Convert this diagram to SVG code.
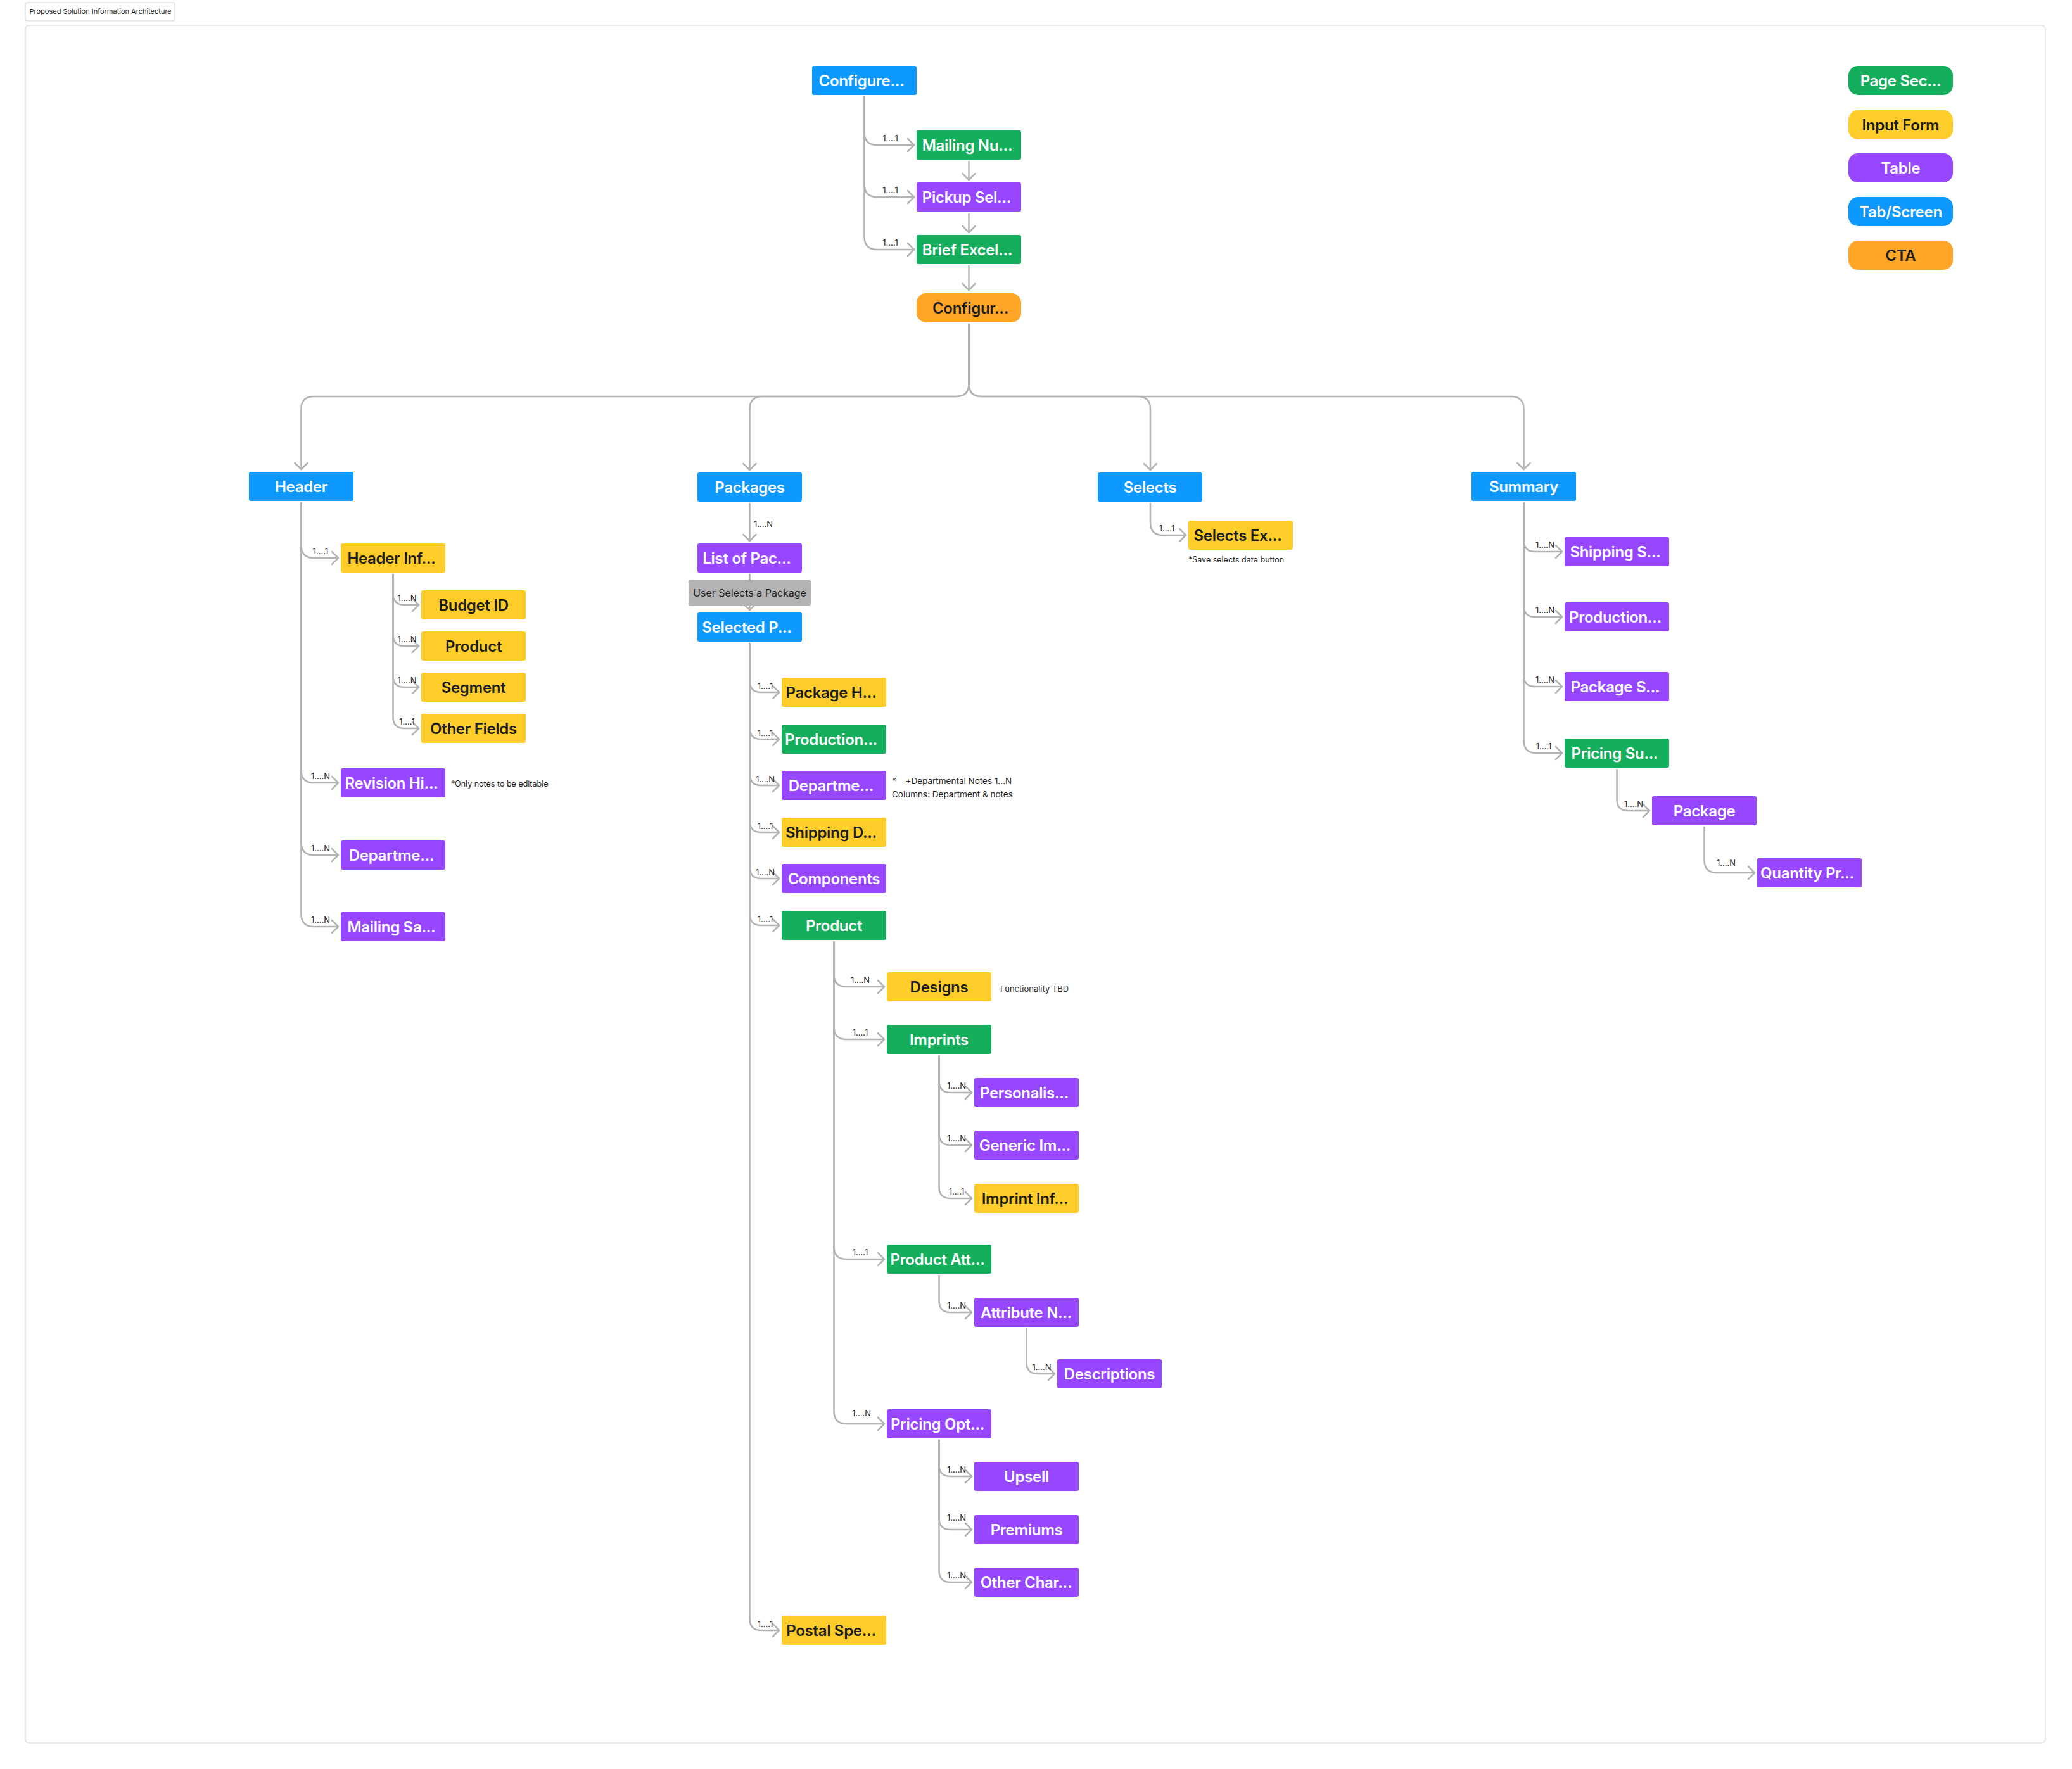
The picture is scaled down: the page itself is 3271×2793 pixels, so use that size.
<svg xmlns="http://www.w3.org/2000/svg" width="3271" height="2793" viewBox="0 0 3271 2793">
<defs>
<style>
.bg{fill:#ffffff}
.frame{fill:none;stroke:#e3e3e3;stroke-width:1.5}
.title-box{fill:#ffffff;stroke:#d4d4d4;stroke-width:1}
.title{font-family:Inter,"Noto Sans",sans-serif;font-size:11px;fill:#1e1e1e}
.green{fill:#14ae5c}
.yellow{fill:#ffcd29}
.purple{fill:#9747ff}
.blue{fill:#0d99ff}
.orange{fill:#ffa629}
.grey{fill:#b3b3b3}
.t{font-family:Inter,"Noto Sans",sans-serif;font-size:24px;font-weight:600;letter-spacing:-0.3px;text-anchor:middle}
.w{fill:#ffffff}
.d{fill:#1e1e1e}
.c{fill:none;stroke:#b3b3b3;stroke-width:2.5;stroke-linecap:round;marker-end:url(#arr)}
.lbl{font-family:Inter,"Noto Sans",sans-serif;font-size:13px;fill:#1e1e1e;text-anchor:middle}
.note{font-family:Inter,"Noto Sans",sans-serif;font-size:12.5px;fill:#1e1e1e}
.gt{font-family:Inter,"Noto Sans",sans-serif;font-size:16px;fill:#1e1e1e;text-anchor:middle}
</style>
<marker id="arr" viewBox="-13 -12 15 24" refX="0" refY="0" markerWidth="15" markerHeight="24" markerUnits="userSpaceOnUse" orient="auto">
<path d="M-10,-10 L0,0 L-10,10" fill="none" stroke="#b3b3b3" stroke-width="2.5" stroke-linecap="round" stroke-linejoin="round"/>
</marker>
</defs>
<rect class="bg" x="0" y="0" width="3271" height="2793"/>
<rect class="frame" x="40" y="40" width="3189" height="2712" rx="6"/>
<g id="title">
<rect class="title-box" x="40" y="4" width="236" height="29" rx="3"/>
<text class="title" x="46.5" y="22">Proposed Solution Information Architecture</text>
</g>

<g id="connectors">
<path class="c" d="M1364.5,153 V209 Q1364.5,229 1384.5,229 H1443"/>
<path class="c" d="M1364.5,153 V291 Q1364.5,311 1384.5,311 H1443"/>
<path class="c" d="M1364.5,153 V374 Q1364.5,394 1384.5,394 H1443"/>
<text class="lbl" x="1405.5" y="223">1....1</text>
<text class="lbl" x="1405.5" y="305">1....1</text>
<text class="lbl" x="1405.5" y="388">1....1</text>
<path class="c" d="M1529.5,255 V284"/>
<path class="c" d="M1529.5,338 V367"/>
<path class="c" d="M1529.5,420 V458"/>
<path class="c" d="M1529.5,512 V606 Q1529.5,626 1509.5,626 H495.5 Q475.5,626 475.5,646 V741"/>
<path class="c" d="M1529.5,512 V606 Q1529.5,626 1509.5,626 H1203.5 Q1183.5,626 1183.5,646 V742"/>
<path class="c" d="M1529.5,512 V606 Q1529.5,626 1549.5,626 H1796 Q1816,626 1816,646 V742"/>
<path class="c" d="M1529.5,512 V606 Q1529.5,626 1549.5,626 H2385.5 Q2405.5,626 2405.5,646 V741"/>
<path class="c" d="M475.5,794 V861 Q475.5,881 495.5,881 H534"/>
<path class="c" d="M475.5,794 V1216 Q475.5,1236 495.5,1236 H534"/>
<path class="c" d="M475.5,794 V1330 Q475.5,1350 495.5,1350 H534"/>
<path class="c" d="M475.5,794 V1443 Q475.5,1463 495.5,1463 H534"/>
<text class="lbl" x="506" y="875">1....1</text>
<text class="lbl" x="506" y="1230">1....N</text>
<text class="lbl" x="506" y="1344">1....N</text>
<text class="lbl" x="506" y="1457">1....N</text>
<path class="c" d="M620.5,907 V937 Q620.5,955 638.5,955 H661"/>
<path class="c" d="M620.5,907 V1002 Q620.5,1020 638.5,1020 H661"/>
<path class="c" d="M620.5,907 V1067 Q620.5,1085 638.5,1085 H661"/>
<path class="c" d="M620.5,907 V1132 Q620.5,1150 638.5,1150 H661"/>
<text class="lbl" x="642.5" y="949">1....N</text>
<text class="lbl" x="642.5" y="1014">1....N</text>
<text class="lbl" x="642.5" y="1079">1....N</text>
<text class="lbl" x="642.5" y="1144">1....1</text>
<path class="c" d="M1183.5,795 V854"/>
<text class="lbl" x="1190" y="832" style="text-anchor:start">1....N</text>
<path class="c" d="M1183.5,907 V963"/>
<path class="c" d="M1183.5,1016 V1075 Q1183.5,1093 1201.5,1093 H1230"/>
<path class="c" d="M1183.5,1016 V1149 Q1183.5,1167 1201.5,1167 H1230"/>
<path class="c" d="M1183.5,1016 V1222 Q1183.5,1240 1201.5,1240 H1230"/>
<path class="c" d="M1183.5,1016 V1296 Q1183.5,1314 1201.5,1314 H1230"/>
<path class="c" d="M1183.5,1016 V1369 Q1183.5,1387 1201.5,1387 H1230"/>
<path class="c" d="M1183.5,1016 V1443 Q1183.5,1461 1201.5,1461 H1230"/>
<path class="c" d="M1183.5,1016 V2556 Q1183.5,2574 1201.5,2574 H1230"/>
<text class="lbl" x="1208" y="1088">1....1</text>
<text class="lbl" x="1208" y="1162">1....1</text>
<text class="lbl" x="1208" y="1235">1....N</text>
<text class="lbl" x="1208" y="1309">1....1</text>
<text class="lbl" x="1208" y="1382">1....N</text>
<text class="lbl" x="1208" y="1456">1....1</text>
<text class="lbl" x="1208" y="2569">1....1</text>
<path class="c" d="M1316.5,1487 V1538 Q1316.5,1558 1336.5,1558 H1396"/>
<path class="c" d="M1316.5,1487 V1621 Q1316.5,1641 1336.5,1641 H1396"/>
<path class="c" d="M1316.5,1487 V1968 Q1316.5,1988 1336.5,1988 H1396"/>
<path class="c" d="M1316.5,1487 V2228 Q1316.5,2248 1336.5,2248 H1396"/>
<text class="lbl" x="1358" y="1552">1....N</text>
<text class="lbl" x="1358" y="1635">1....1</text>
<text class="lbl" x="1358" y="1982">1....1</text>
<text class="lbl" x="1360" y="2236">1....N</text>
<path class="c" d="M1482.5,1667 V1707 Q1482.5,1725 1500.5,1725 H1534"/>
<path class="c" d="M1482.5,1667 V1790 Q1482.5,1808 1500.5,1808 H1534"/>
<path class="c" d="M1482.5,1667 V1874 Q1482.5,1892 1500.5,1892 H1534"/>
<text class="lbl" x="1510" y="1719">1....N</text>
<text class="lbl" x="1510" y="1802">1....N</text>
<text class="lbl" x="1510" y="1886">1....1</text>
<path class="c" d="M1482.5,2014 V2054 Q1482.5,2072 1500.5,2072 H1534"/>
<text class="lbl" x="1510" y="2066">1....N</text>
<path class="c" d="M1620.5,2097 V2151 Q1620.5,2169 1638.5,2169 H1665"/>
<text class="lbl" x="1644.5" y="2163">1....N</text>
<path class="c" d="M1482.5,2274 V2313 Q1482.5,2331 1500.5,2331 H1534"/>
<path class="c" d="M1482.5,2274 V2397 Q1482.5,2415 1500.5,2415 H1534"/>
<path class="c" d="M1482.5,2274 V2480 Q1482.5,2498 1500.5,2498 H1534"/>
<text class="lbl" x="1510" y="2325">1....N</text>
<text class="lbl" x="1510" y="2401">1....N</text>
<text class="lbl" x="1510" y="2492">1....N</text>
<path class="c" d="M1816,795 V825 Q1816,845 1836,845 H1872"/>
<text class="lbl" x="1842" y="839">1....1</text>
<path class="c" d="M2405.5,794 V853 Q2405.5,871 2423.5,871 H2466"/>
<path class="c" d="M2405.5,794 V956 Q2405.5,974 2423.5,974 H2466"/>
<path class="c" d="M2405.5,794 V1066 Q2405.5,1084 2423.5,1084 H2466"/>
<path class="c" d="M2405.5,794 V1169 Q2405.5,1189 2425.5,1189 H2466"/>
<text class="lbl" x="2439" y="865">1....N</text>
<text class="lbl" x="2439" y="968">1....N</text>
<text class="lbl" x="2439" y="1078">1....N</text>
<text class="lbl" x="2437" y="1183">1....1</text>
<path class="c" d="M2552.5,1215 V1262 Q2552.5,1280 2570.5,1280 H2604"/>
<text class="lbl" x="2579" y="1274">1....N</text>
<path class="c" d="M2690.5,1306 V1358 Q2690.5,1378 2710.5,1378 H2770"/>
<text class="lbl" x="2725" y="1367">1....N</text>
</g>

<g id="n-configure"><rect class="blue" x="1282" y="104" width="165" height="46" rx="3"/><text class="t w" x="1360" y="135.5">Configure...</text></g>
<g id="n-mailing-nu"><rect class="green" x="1447" y="206" width="165" height="46" rx="3"/><text class="t w" x="1527" y="237.5">Mailing Nu...</text></g>
<g id="n-pickup-sel"><rect class="purple" x="1447" y="288" width="165" height="46" rx="3"/><text class="t w" x="1526" y="319.5">Pickup Sel...</text></g>
<g id="n-brief-excel"><rect class="green" x="1447" y="371" width="165" height="46" rx="3"/><text class="t w" x="1527" y="402.5">Brief Excel...</text></g>
<g id="n-configur-cta"><rect class="orange" x="1447" y="463" width="165" height="46" rx="15"/><text class="t d" x="1532" y="494.5">Configur...</text></g>

<g id="n-header"><rect class="blue" x="393" y="745" width="165" height="46" rx="3"/><text class="t w" x="475.5" y="776.5">Header</text></g>
<g id="n-packages"><rect class="blue" x="1101" y="746" width="165" height="46" rx="3"/><text class="t w" x="1183.5" y="777.5">Packages</text></g>
<g id="n-selects"><rect class="blue" x="1733" y="746" width="165" height="46" rx="3"/><text class="t w" x="1815.5" y="777.5">Selects</text></g>
<g id="n-summary"><rect class="blue" x="2323" y="745" width="165" height="46" rx="3"/><text class="t w" x="2405.5" y="776.5">Summary</text></g>

<g id="n-header-inf"><rect class="yellow" x="538" y="858" width="165" height="46" rx="3"/><text class="t d" x="618" y="889.5">Header Inf...</text></g>
<g id="n-budget-id"><rect class="yellow" x="665" y="932" width="165" height="46" rx="3"/><text class="t d" x="747.5" y="963.5">Budget ID</text></g>
<g id="n-product-h"><rect class="yellow" x="665" y="997" width="165" height="46" rx="3"/><text class="t d" x="747.5" y="1028.5">Product</text></g>
<g id="n-segment"><rect class="yellow" x="665" y="1062" width="165" height="46" rx="3"/><text class="t d" x="747.5" y="1093.5">Segment</text></g>
<g id="n-other-fields"><rect class="yellow" x="665" y="1127" width="165" height="46" rx="3"/><text class="t d" x="747.5" y="1158.5">Other Fields</text></g>
<g id="n-revision"><rect class="purple" x="538" y="1213" width="165" height="46" rx="3"/><text class="t w" x="618" y="1244.5">Revision Hi...</text></g>
<text class="note" x="712" y="1242">*Only notes to be editable</text>
<g id="n-departme-h"><rect class="purple" x="538" y="1327" width="165" height="46" rx="3"/><text class="t w" x="618" y="1358.5">Departme...</text></g>
<g id="n-mailing-sa"><rect class="purple" x="538" y="1440" width="165" height="46" rx="3"/><text class="t w" x="618" y="1471.5">Mailing Sa...</text></g>

<g id="n-list-of-pac"><rect class="purple" x="1101" y="858" width="165" height="46" rx="3"/><text class="t w" x="1179" y="889.5">List of Pac...</text></g>
<g id="n-user-selects"><rect class="grey" x="1087" y="916" width="193" height="40" rx="3"/><text class="gt" x="1183.5" y="941.5">User Selects a Package</text></g>
<g id="n-selected-p"><rect class="blue" x="1101" y="967" width="165" height="46" rx="3"/><text class="t w" x="1179" y="998.5">Selected P...</text></g>

<g id="n-package-h"><rect class="yellow" x="1234" y="1070" width="165" height="46" rx="3"/><text class="t d" x="1312" y="1101.5">Package H...</text></g>
<g id="n-production-p"><rect class="green" x="1234" y="1144" width="165" height="46" rx="3"/><text class="t w" x="1312" y="1175.5">Production...</text></g>
<g id="n-departme-p"><rect class="purple" x="1234" y="1217" width="165" height="46" rx="3"/><text class="t w" x="1312" y="1248.5">Departme...</text></g>
<text class="note" style="font-size:13.5px"><tspan x="1408" y="1238">*</tspan><tspan x="1429.5" y="1238">+Departmental Notes 1...N</tspan><tspan x="1408" y="1259">Columns: Department &amp; notes</tspan></text>
<g id="n-shipping-d"><rect class="yellow" x="1234" y="1291" width="165" height="46" rx="3"/><text class="t d" x="1312" y="1322.5">Shipping D...</text></g>
<g id="n-components"><rect class="purple" x="1234" y="1364" width="165" height="46" rx="3"/><text class="t w" x="1316.5" y="1395.5">Components</text></g>
<g id="n-product"><rect class="green" x="1234" y="1438" width="165" height="46" rx="3"/><text class="t w" x="1316.5" y="1469.5">Product</text></g>
<g id="n-postal-spe"><rect class="yellow" x="1234" y="2551" width="165" height="46" rx="3"/><text class="t d" x="1312" y="2582.5">Postal Spe...</text></g>

<g id="n-designs"><rect class="yellow" x="1400" y="1535" width="165" height="46" rx="3"/><text class="t d" x="1482.5" y="1566.5">Designs</text></g>
<text class="note" style="font-size:13px" x="1579" y="1566">Functionality TBD</text>
<g id="n-imprints"><rect class="green" x="1400" y="1618" width="165" height="46" rx="3"/><text class="t w" x="1482.5" y="1649.5">Imprints</text></g>
<g id="n-personalis"><rect class="purple" x="1538" y="1702" width="165" height="46" rx="3"/><text class="t w" x="1617" y="1733.5">Personalis...</text></g>
<g id="n-generic-im"><rect class="purple" x="1538" y="1785" width="165" height="46" rx="3"/><text class="t w" x="1618" y="1816.5">Generic Im...</text></g>
<g id="n-imprint-inf"><rect class="yellow" x="1538" y="1869" width="165" height="46" rx="3"/><text class="t d" x="1618" y="1900.5">Imprint Inf...</text></g>
<g id="n-product-att"><rect class="green" x="1400" y="1965" width="165" height="46" rx="3"/><text class="t w" x="1480" y="1996.5">Product Att...</text></g>
<g id="n-attribute-n"><rect class="purple" x="1538" y="2049" width="165" height="46" rx="3"/><text class="t w" x="1620" y="2080.5">Attribute N...</text></g>
<g id="n-descriptions"><rect class="purple" x="1669" y="2146" width="165" height="46" rx="3"/><text class="t w" x="1751.5" y="2177.5">Descriptions</text></g>
<g id="n-pricing-opt"><rect class="purple" x="1400" y="2225" width="165" height="46" rx="3"/><text class="t w" x="1480" y="2256.5">Pricing Opt...</text></g>
<g id="n-upsell"><rect class="purple" x="1538" y="2308" width="165" height="46" rx="3"/><text class="t w" x="1620.5" y="2339.5">Upsell</text></g>
<g id="n-premiums"><rect class="purple" x="1538" y="2392" width="165" height="46" rx="3"/><text class="t w" x="1620.5" y="2423.5">Premiums</text></g>
<g id="n-other-char"><rect class="purple" x="1538" y="2475" width="165" height="46" rx="3"/><text class="t w" x="1620" y="2506.5">Other Char...</text></g>

<g id="n-selects-ex"><rect class="yellow" x="1876" y="822" width="165" height="46" rx="3"/><text class="t d" x="1954" y="853.5">Selects Ex...</text></g>
<text class="note" x="1876" y="888">*Save selects data button</text>

<g id="n-shipping-s"><rect class="purple" x="2470" y="848" width="165" height="46" rx="3"/><text class="t w" x="2550" y="879.5">Shipping S...</text></g>
<g id="n-production-s"><rect class="purple" x="2470" y="951" width="165" height="46" rx="3"/><text class="t w" x="2550" y="982.5">Production...</text></g>
<g id="n-package-s"><rect class="purple" x="2470" y="1061" width="165" height="46" rx="3"/><text class="t w" x="2550" y="1092.5">Package S...</text></g>
<g id="n-pricing-su"><rect class="green" x="2470" y="1166" width="165" height="46" rx="3"/><text class="t w" x="2549" y="1197.5">Pricing Su...</text></g>
<g id="n-package"><rect class="purple" x="2608" y="1257" width="165" height="46" rx="3"/><text class="t w" x="2690.5" y="1288.5">Package</text></g>
<g id="n-quantity-pr"><rect class="purple" x="2774" y="1355" width="165" height="46" rx="3"/><text class="t w" x="2853" y="1386.5">Quantity Pr...</text></g>

<g id="legend">
<g id="l-page-sec"><rect class="green" x="2918" y="104" width="165" height="46" rx="15"/><text class="t w" x="3000.5" y="135.5">Page Sec...</text></g>
<g id="l-input-form"><rect class="yellow" x="2918" y="174" width="165" height="46" rx="15"/><text class="t d" x="3000.5" y="205.5">Input Form</text></g>
<g id="l-table"><rect class="purple" x="2918" y="242" width="165" height="46" rx="15"/><text class="t w" x="3000.5" y="273.5">Table</text></g>
<g id="l-tab-screen"><rect class="blue" x="2918" y="311" width="165" height="46" rx="15"/><text class="t w" x="3000.5" y="342.5">Tab/Screen</text></g>
<g id="l-cta"><rect class="orange" x="2918" y="380" width="165" height="46" rx="15"/><text class="t d" x="3000.5" y="411.5">CTA</text></g>
</g>
</svg>
